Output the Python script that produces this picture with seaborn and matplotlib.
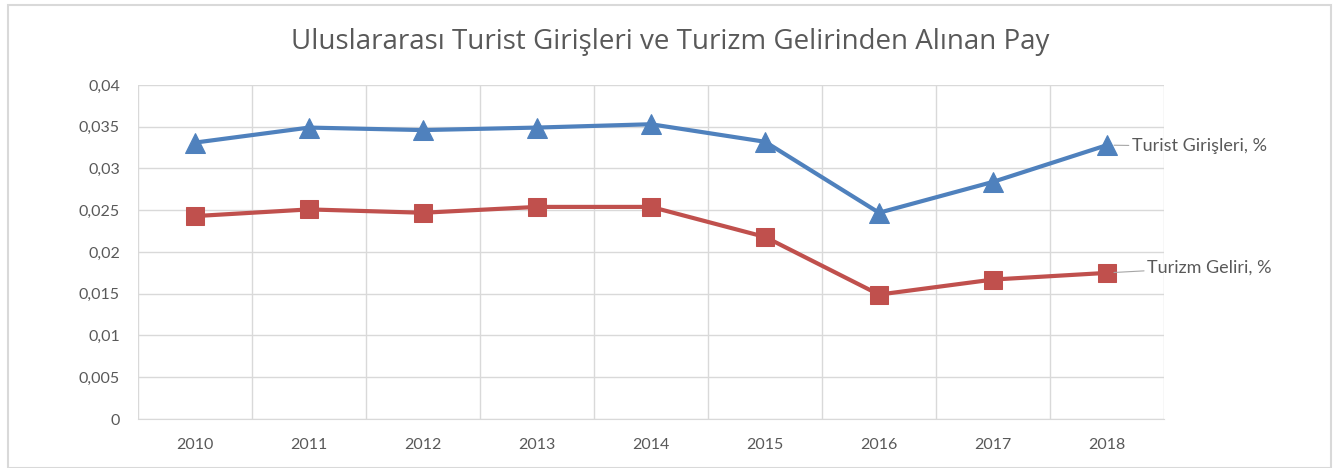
import seaborn as sns
import matplotlib.pyplot as plt
import pandas as pd
from matplotlib.ticker import MultipleLocator, FuncFormatter, FixedLocator
from matplotlib.patches import Rectangle

years = ["2010", "2011", "2012", "2013", "2014", "2015", "2016", "2017", "2018"]
turist_girisleri = [0.0331, 0.0349, 0.0346, 0.0349, 0.0353, 0.0332, 0.0247, 0.0284, 0.0328]
turizm_geliri = [0.0243, 0.0251, 0.0247, 0.0254, 0.0254, 0.0218, 0.0149, 0.0167, 0.0175]

blue = "#4F81BD"
red = "#C0504D"
grey = "#595959"

sns.set_style("white")
plt.rcParams["font.family"] = ["Lato", "DejaVu Sans"]

df = pd.DataFrame({"yil": years, "giris": turist_girisleri, "gelir": turizm_geliri})

fig = plt.figure(figsize=(13.4, 4.68), dpi=100)
ax = fig.add_axes([0.103, 0.1047, 0.7657, 0.7137])

sns.lineplot(data=df, x="yil", y="giris", ax=ax, color=blue, lw=3,
             marker="^", markersize=15, markeredgecolor=blue)
sns.lineplot(data=df, x="yil", y="gelir", ax=ax, color=red, lw=3,
             marker="s", markersize=13, markeredgecolor=red)

ax.set_xlim(-0.5, len(years) - 0.5)
ax.set_ylim(0, 0.04)
ax.yaxis.set_major_locator(MultipleLocator(0.005))
ax.yaxis.set_major_formatter(FuncFormatter(lambda v, p: f"{v:g}".replace(".", ",")))
ax.xaxis.set_minor_locator(FixedLocator([i - 0.5 for i in range(len(years) + 1)]))
ax.grid(axis="y", which="major", color="#d9d9d9", lw=1)
ax.grid(axis="x", which="minor", color="#d9d9d9", lw=1)
ax.tick_params(axis="both", which="both", length=0, labelsize=11.5, colors=grey)
ax.tick_params(axis="x", pad=14)
ax.tick_params(axis="y", pad=13)
ax.set_xlabel("")
ax.set_ylabel("")
for s in ["left", "right", "top"]:
    ax.spines[s].set_visible(False)
ax.spines["bottom"].set_color("#d9d9d9")

ax.annotate("Turist Girişleri, %", xy=(len(years) - 1, turist_girisleri[-1]),
            xytext=(18, -1), textcoords="offset points", va="center", ha="left",
            fontsize=13, color=grey,
            arrowprops=dict(arrowstyle="-", color="#a6a6a6", lw=0.8, shrinkA=0, shrinkB=5))
ax.annotate("Turizm Geliri, %", xy=(len(years) - 1, turizm_geliri[-1]),
            xytext=(29, 4), textcoords="offset points", va="center", ha="left",
            fontsize=13, color=grey,
            arrowprops=dict(arrowstyle="-", color="#a6a6a6", lw=0.8, shrinkA=0, shrinkB=5))

fig.text(0.5, 0.91, "Uluslararası Turist Girişleri ve Turizm Gelirinden Alınan Pay",
         ha="center", va="center", fontsize=20, color=grey, family=["Open Sans", "DejaVu Sans"])

fig.patches.append(Rectangle((0.006, 0.0), 0.987, 0.99, transform=fig.transFigure,
                             fill=False, edgecolor="#d9d9d9", lw=1.5))

fig.savefig("out.png", dpi=100)
